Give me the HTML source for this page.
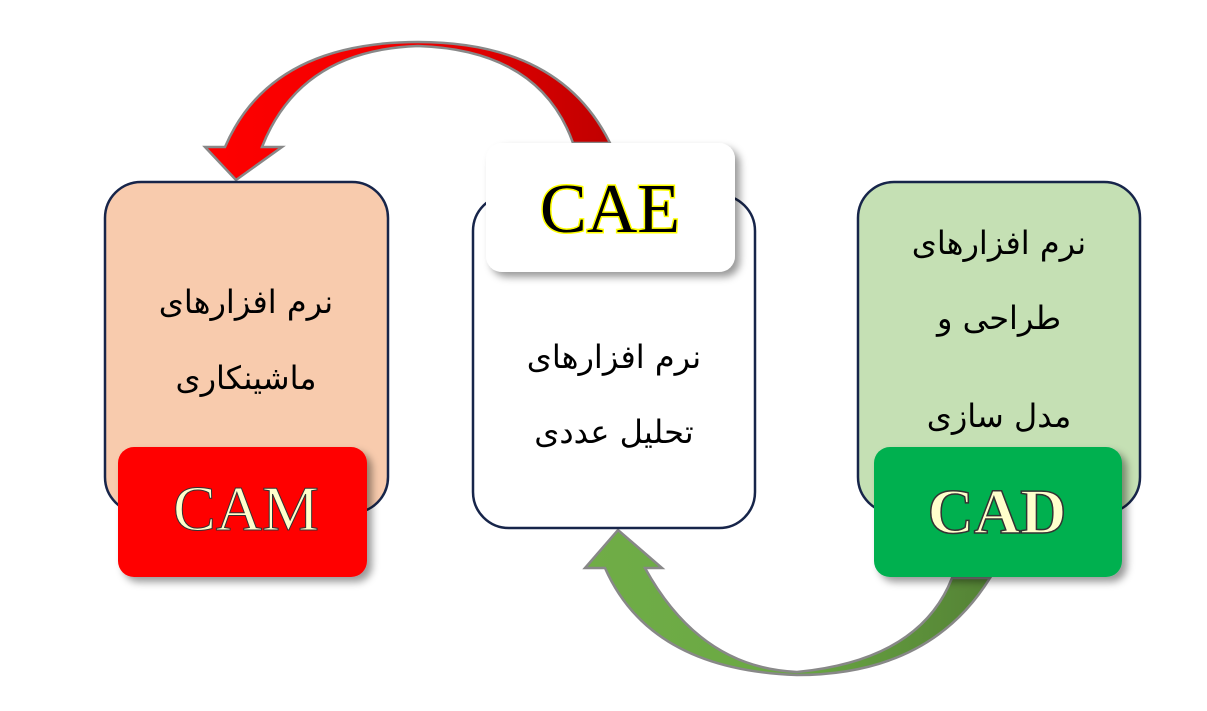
<!DOCTYPE html>
<html><head><meta charset="utf-8"><style>
html,body{margin:0;padding:0;background:#fff;width:1207px;height:711px;overflow:hidden}
</style></head><body>
<svg width="1207" height="711" viewBox="0 0 1207 711" xmlns="http://www.w3.org/2000/svg">
<defs>
<filter id="sh" x="-20%" y="-20%" width="150%" height="150%"><feDropShadow dx="5" dy="5" stdDeviation="4" flood-color="#000" flood-opacity="0.4"/></filter>
<linearGradient id="rg" x1="0" x2="1"><stop offset="0" stop-color="#ff0000"/><stop offset="0.5" stop-color="#f00000"/><stop offset="1" stop-color="#c00000"/></linearGradient>
<linearGradient id="gg" x1="0" x2="1"><stop offset="0" stop-color="#70ad47"/><stop offset="0.5" stop-color="#6aa843"/><stop offset="1" stop-color="#548235"/></linearGradient>
</defs>
<path d="M610,143 Q560,42 418,42 Q270,42 225,147 L205,147 L236,180 L282,147 L262,147 Q300,50 418,46 Q540,50 573,143 Z" fill="url(#rg)" stroke="#888" stroke-width="2.5"/>
<path d="M990,578 Q930,675 797,675 Q650,670 605,568 L585,568 L618,530 L662,568 L645,568 Q700,668 797,672 Q920,660 952,578 Z" fill="url(#gg)" stroke="#888" stroke-width="2.5"/>
<rect x="105" y="182" width="283" height="331" rx="36" fill="#f8cbad" stroke="#17254a" stroke-width="2.5"/>
<rect x="473" y="195" width="282" height="333" rx="36" fill="#fff" stroke="#17254a" stroke-width="2.5"/>
<rect x="858" y="182" width="282" height="331" rx="36" fill="#c5e0b4" stroke="#17254a" stroke-width="2.5"/>
<rect x="118" y="447" width="249" height="130" rx="16" fill="#ff0000" filter="url(#sh)"/>
<rect x="486" y="143" width="249" height="129" rx="16" fill="#fff" filter="url(#sh)"/>
<rect x="874" y="447" width="248" height="130" rx="16" fill="#00b050" filter="url(#sh)"/>
<g font-family="Liberation Serif, serif" text-anchor="middle">
<text x="246" y="530" font-size="64" fill="#ffffcc" stroke="#333" stroke-width="1">CAM</text>
<text x="610" y="232" font-size="70" fill="#000" stroke="#ffff00" stroke-width="3" paint-order="stroke">CAE</text>
<text x="997" y="533" font-size="64" fill="#ffffcc" stroke="#333" stroke-width="1.5" font-weight="bold">CAD</text>
</g>
<g font-family="DejaVu Sans, Noto Sans CJK SC, sans-serif" font-size="32" text-anchor="middle" fill="#000" direction="rtl">
<text x="246" y="313">نرم افزارهای</text>
<text x="246" y="389">ماشینکاری</text>
<text x="614" y="368">نرم افزارهای</text>
<text x="614" y="443">تحلیل عددی</text>
<text x="999" y="254">نرم افزارهای</text>
<text x="999" y="329">طراحی و</text>
<text x="999" y="427">مدل سازی</text>
</g>
</svg>
</body></html>
